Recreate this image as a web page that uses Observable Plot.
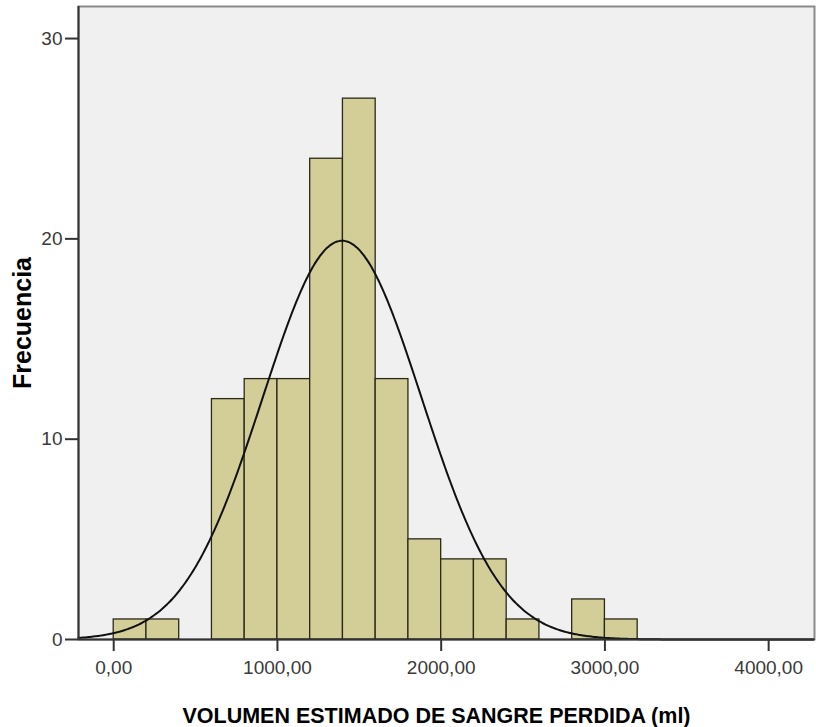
<!DOCTYPE html>
<html>
<head>
<meta charset="utf-8">
<script src="https://cdn.jsdelivr.net/npm/d3@7"></script>
<script src="https://cdn.jsdelivr.net/npm/@observablehq/plot@0.6"></script>
<style>
  html, body { margin: 0; padding: 0; background: #fff; }
  #chart svg { display: block; }
  #chart [aria-label*="axis"] text { font-size: 19px !important; }
</style>
</head>
<body>
<div id="chart"></div>
<script>
// Histogram of estimated blood loss (ml), bins of 200 ml
const binEdges = [0, 200, 400, 600, 800, 1000, 1200, 1400, 1600, 1800, 2000, 2200, 2400, 2600, 2800, 3000, 3200];
const counts   = [1, 1, 0, 12, 13, 13, 24, 27, 13, 5, 4, 4, 1, 0, 2, 1];
const xTicks = [0, 1000, 2000, 3000, 4000];
const yTicks = [0, 10, 20, 30];

// Fitted normal curve parameters
const mean = 1395;
const sd = 485;
const binWidth = 200;
const n = d3.sum(counts);

const bars = counts.map((c, i) => ({x1: binEdges[i], x2: binEdges[i + 1], y: c})).filter(d => d.y > 0);

const xDomain = [-215, 4280];
const curve = d3.range(xDomain[0], xDomain[1] + 1, 10).map(x => ({
  x,
  y: n * binWidth / (sd * Math.sqrt(2 * Math.PI)) * Math.exp(-((x - mean) ** 2) / (2 * sd * sd))
}));

const fmt = d => d3.format(".2f")(d).replace(".", ",");

const chart = Plot.plot({
  width: 816,
  height: 727,
  marginLeft: 78,
  marginRight: 2,
  marginTop: 6,
  marginBottom: 88,
  style: {fontFamily: "Arial, 'Liberation Sans', sans-serif", fontSize: "19px", background: "#fff"},
  x: {domain: xDomain},
  y: {domain: [0, 31.6]},
  marks: [
    Plot.frame({fill: "#f0f0f0", stroke: "#8a8a8a", strokeWidth: 2}),
    Plot.rectY(bars, {x1: "x1", x2: "x2", y: "y", fill: "#d3ce97", stroke: "#2a2a1a", strokeWidth: 1.3}),
    Plot.line(curve, {x: "x", y: "y", stroke: "#111", strokeWidth: 2, curve: "basis"}),
    Plot.ruleX([xDomain[0]], {stroke: "#333", strokeWidth: 2}),
    Plot.ruleY([0], {stroke: "#333", strokeWidth: 2}),
    Plot.axisX({ticks: xTicks, tickFormat: fmt, tickSize: 12, tickPadding: 9, stroke: "#333", strokeWidth: 2, fill: "#3a3a3a", label: null, fontSize: 19}),
    Plot.axisY({ticks: yTicks, tickSize: 13, tickPadding: 3, stroke: "#333", strokeWidth: 2, fill: "#3a3a3a", label: null, fontSize: 19}),
    Plot.text(["VOLUMEN ESTIMADO DE SANGRE PERDIDA (ml)"], {
      frameAnchor: "bottom", dx: -10, dy: 83, text: d => d, fontWeight: "bold", fontSize: 21.5, fill: "#000", lineAnchor: "bottom"
    }),
    Plot.text(["Frecuencia"], {
      frameAnchor: "left", dx: -56, rotate: -90, textAnchor: "middle", text: d => d, fontWeight: "bold", fontSize: 25, fill: "#000"
    })
  ]
});

document.getElementById("chart").appendChild(chart);
</script>
</body>
</html>
